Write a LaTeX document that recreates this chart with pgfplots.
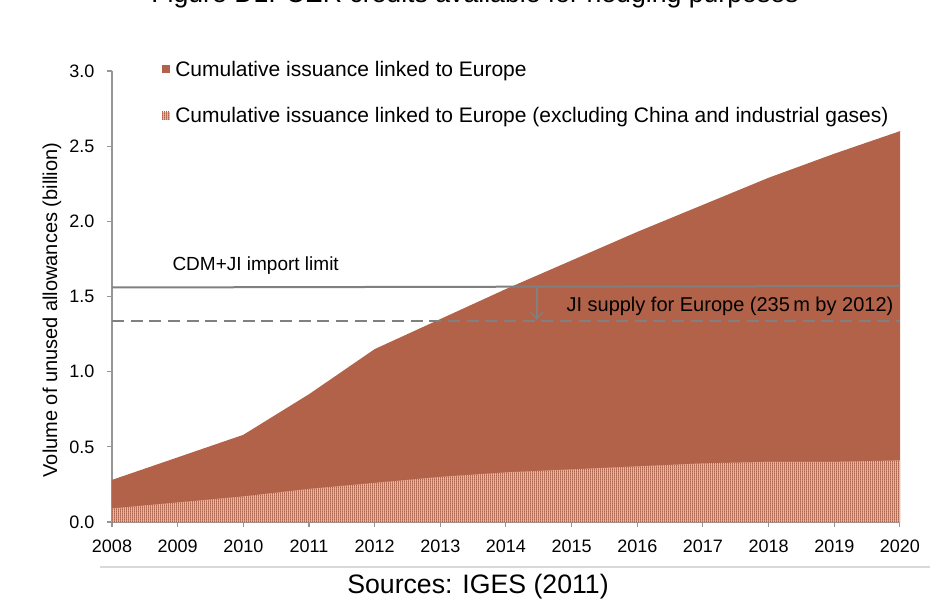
\documentclass[border=0pt]{standalone}
\usepackage{fontspec}
\setmainfont{Liberation Sans}
\usepackage{pgfplots}
\pgfplotsset{compat=1.18}
\usetikzlibrary{patterns,arrows.meta}

\definecolor{cerbrown}{RGB}{178,98,72}
\definecolor{cerlight}{RGB}{232,182,164}
\definecolor{limgray}{RGB}{128,128,128}
\definecolor{axgray}{RGB}{150,150,150}

% fine vertical stripes for the "excluding China" area
\pgfdeclarepatternformonly{finestripes}{\pgfqpoint{0pt}{0pt}}{\pgfqpoint{1.6pt}{1.6pt}}{\pgfqpoint{1.6pt}{1.6pt}}{%
  \pgfpathrectangle{\pgfqpoint{0pt}{0pt}}{\pgfqpoint{0.8pt}{1.6pt}}\pgfusepath{fill}}

\begin{document}
\begin{tikzpicture}
\useasboundingbox (-84pt,-58.5pt) rectangle (613.5pt,391.5pt);

\begin{axis}[
    scale only axis,
    width=591pt, height=338.25pt,
    xmin=2008, xmax=2020,
    ymin=0, ymax=3,
    axis x line*=bottom,
    axis y line*=left,
    axis line style={axgray, line width=0.8pt},
    tick align=outside,
    major tick length=3.75pt,
    tick style={axgray, line width=0.8pt},
    xtick={2008,2009,...,2020},
    ytick={0,0.5,1,1.5,2,2.5,3},
    x tick label style={yshift=-6.5pt, /pgf/number format/1000 sep={}},
    y tick label style={xshift=-6pt, /pgf/number format/fixed, /pgf/number format/fixed zerofill, /pgf/number format/precision=1},
    /pgf/number format/assume math mode=true,
    tick label style={font=\fontsize{13.5}{16}\selectfont},
    legend style={at={(axis description cs:0.058,1.035)}, anchor=north west,
        draw=none, fill=none, font=\fontsize{15.75}{18}\selectfont,
        row sep=18pt, cells={anchor=west}},
    legend image code/.code={\fill[#1] (0pt,-3pt) rectangle (6pt,3pt);},
    legend cell align=left,
    /tikz/every odd column/.append style={column sep=2pt},
]

% cumulative issuance linked to Europe (billion)
\addplot[draw=none, fill=cerbrown] coordinates {
    (2008,0.28) (2009,0.43) (2010,0.58) (2011,0.85) (2012,1.15)
    (2013,1.35) (2014,1.55) (2015,1.74) (2016,1.93) (2017,2.11)
    (2018,2.29) (2019,2.45) (2020,2.60)
} \closedcycle;
\addlegendentry{Cumulative issuance linked to Europe}

% excluding China and industrial gases
\addplot[draw=none, fill=cerlight, postaction={pattern=finestripes, pattern color=cerbrown}] coordinates {
    (2008,0.09) (2009,0.13) (2010,0.17) (2011,0.22) (2012,0.26)
    (2013,0.30) (2014,0.33) (2015,0.35) (2016,0.37) (2017,0.39)
    (2018,0.40) (2019,0.40) (2020,0.41)
} \closedcycle;
\addlegendentry{Cumulative issuance linked to Europe (excluding China and industrial gases)}

% import limit and JI supply
\addplot[forget plot, limgray, line width=1.5pt] coordinates {(2008,1.56) (2020,1.57)};
\addplot[forget plot, limgray, line width=1.5pt, dash pattern=on 9pt off 5pt] coordinates {(2008,1.34) (2020,1.34)};
\addplot[forget plot, limgray, line width=1pt, -{Straight Barb[length=5pt,width=9pt]}] coordinates {(2014.47,1.56) (2014.47,1.345)};

\node[anchor=base west, font=\fontsize{14.25}{17}\selectfont] at (axis cs:2008.85,1.67) {CDM+JI import limit};
\node[anchor=base west, font=\fontsize{15}{18}\selectfont] at (axis cs:2014.85,1.40) {JI supply for Europe (235\,m by 2012)};
\end{axis}

\node[rotate=90, font=\fontsize{15}{18}\selectfont] at (-45pt,159pt) {Volume of unused allowances (billion)};
\draw[black!15, line width=0.8pt] (-9pt,-33.75pt) -- (613.5pt,-33.75pt);
\node[anchor=base, font=\fontsize{20}{24}\selectfont] at (274.5pt,-53.5pt) {Sources: IGES (2011)};
\node[anchor=base, font=\fontsize{20}{24}\selectfont] at (272.25pt,389.25pt) {Figure D1: CER credits available for hedging purposes};
\end{tikzpicture}
\end{document}
